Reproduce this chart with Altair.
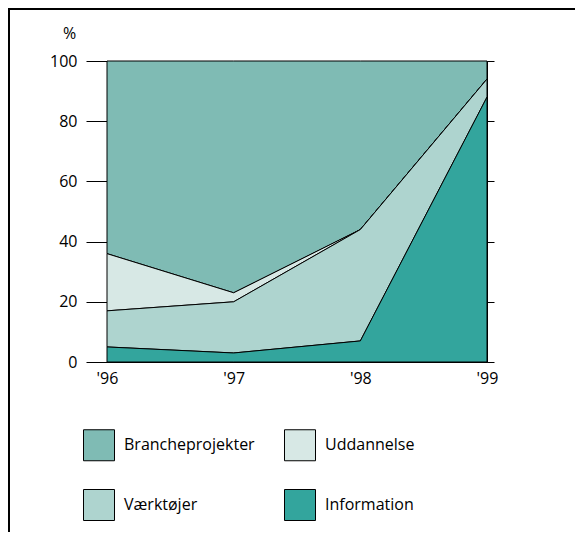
import altair as alt
import pandas as pd

years = ["'96", "'97", "'98", "'99"]
series = ["Brancheprojekter", "Uddannelse", "Værktøjer", "Information"]
branche = [64, 77, 56, 6]
uddannelse = [19, 3, 0, 0]
vaerktojer = [12, 17, 37, 6]
information = [5, 3, 7, 88]
colors = ["#7FBBB4", "#D7E8E5", "#AED4CF", "#33A59D"]
stack_order = {"Information": 0, "Værktøjer": 1, "Uddannelse": 2, "Brancheprojekter": 3}
y_ticks = [0, 20, 40, 60, 80, 100]

rows = []
for name, vals in zip(series, [branche, uddannelse, vaerktojer, information]):
    for yr, v in zip(years, vals):
        rows.append({"year": yr, "series": name, "value": v, "ord": stack_order[name]})
df = pd.DataFrame(rows)

FONT = "Open Sans"

x_enc = alt.X("year:N", sort=years, scale=alt.Scale(type="point", padding=0),
              axis=alt.Axis(title=None, labelAngle=0, ticks=False, domain=True,
                            domainColor="black", labelFontSize=16, labelFont=FONT,
                            labelColor="black", labelPadding=8))

area = alt.Chart(df).mark_area(stroke="black", strokeWidth=1, opacity=1).encode(
    x=x_enc,
    y=alt.Y("value:Q", stack="zero", scale=alt.Scale(domain=[0, 100], nice=False),
            axis=alt.Axis(orient="left", values=y_ticks, tickSize=21, tickColor="black",
                          domainColor="black", labelFontSize=16, labelFont=FONT,
                          labelColor="black", labelPadding=9, grid=False,
                          title="%", titleAngle=0, titleFontSize=16, titleFont=FONT,
                          titleFontWeight="normal", titleColor="black",
                          titleX=-38, titleY=-28, titleAlign="center",
                          titleBaseline="middle")),
    color=alt.Color("series:N", scale=alt.Scale(domain=series, range=colors),
                    legend=alt.Legend(orient="none", legendX=-24, legendY=368,
                                      columns=2, direction="horizontal",
                                      title=None, padding=0,
                                      symbolType="square", symbolSize=961,
                                      symbolStrokeColor="black", symbolStrokeWidth=1,
                                      symbolOpacity=1,
                                      labelFontSize=16, labelFont=FONT, labelColor="black",
                                      labelOffset=9, rowPadding=24, columnPadding=27)),
    order=alt.Order("ord:Q", sort="ascending"),
)

right = alt.Chart(df).mark_area(opacity=0).encode(
    x=alt.X("year:N", sort=years, scale=alt.Scale(type="point", padding=0)),
    y=alt.Y("value:Q", stack="zero",
            axis=alt.Axis(orient="right", values=y_ticks, tickSize=7, tickColor="black",
                          domainColor="black", labels=False, title=None, grid=False)),
    detail="series:N",
    order=alt.Order("ord:Q", sort="ascending"),
)

frame_top = alt.Chart(df).mark_rule(color="black", strokeWidth=1.5).encode(
    x=alt.value(-99), x2=alt.value(468), y=alt.value(-52))
frame_left = alt.Chart(df).mark_rule(color="black", strokeWidth=1.5).encode(
    x=alt.value(-98.5), y=alt.value(-52), y2=alt.value(471))

chart = alt.layer(area, right, frame_top, frame_left).resolve_axis(
    y="independent").resolve_scale(y="shared").properties(
    width=380, height=301,
    autosize=alt.AutoSizeParams(type="none"),
    padding={"left": 99, "top": 53, "right": 89, "bottom": 170},
).configure_view(stroke="black", strokeWidth=1)

chart.save("out.html", embed_options={"renderer": "svg", "actions": False})
